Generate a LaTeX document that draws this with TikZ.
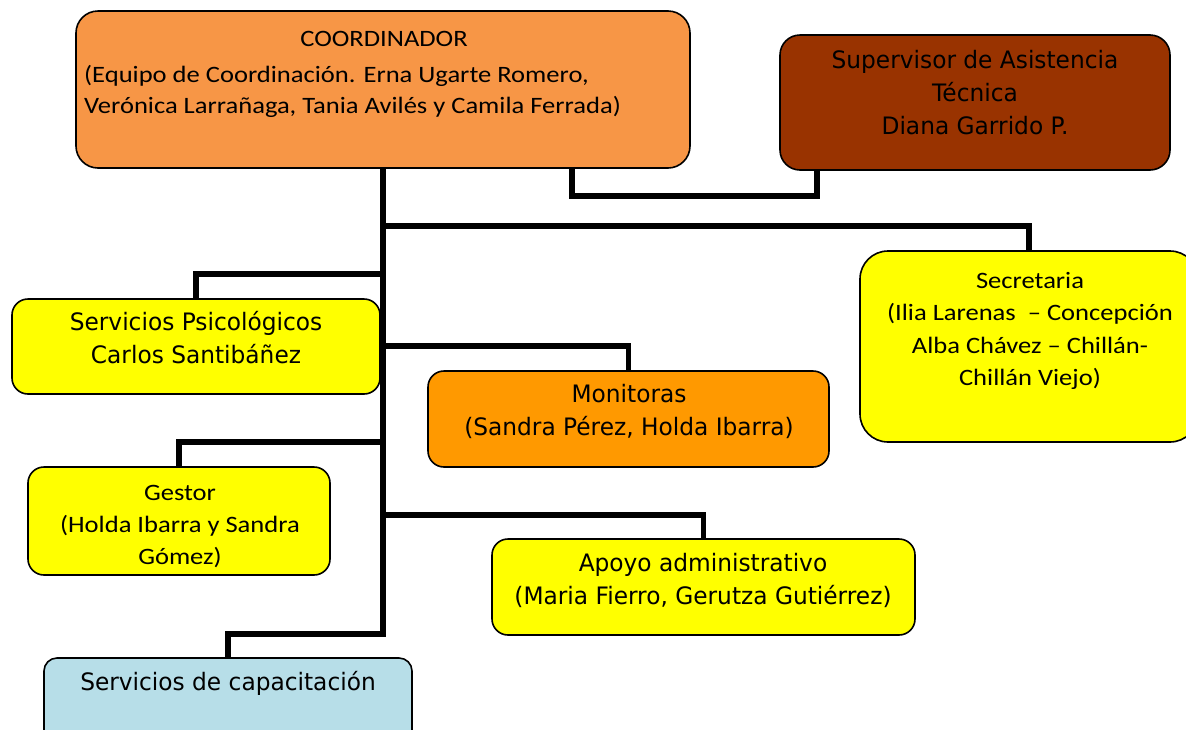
\documentclass[tikz,border=0pt]{standalone}
\usepackage{fontspec}
\setmainfont[FakeStretch=1.13]{Carlito}
\newfontfamily\tahoma[FakeStretch=0.97]{DejaVu Sans}
\definecolor{coordorange}{HTML}{F79646}
\definecolor{superbrown}{HTML}{993300}
\definecolor{boxyellow}{HTML}{FFFF00}
\definecolor{monorange}{HTML}{FF9900}
\definecolor{capablue}{HTML}{B7DEE8}
\begin{document}
\begin{tikzpicture}[x=1pt, y=-1pt, line join=miter,
	box/.style={draw=black, line width=1.6pt, rounded corners=16pt, inner sep=0pt},
	link/.style={line width=5.5pt},
	calib/.style={font=\fontsize{23.5}{32.5}\selectfont, align=center, inner sep=0pt},
	tah/.style={font=\tahoma\fontsize{24}{33}\selectfont, align=center, inner sep=0pt}]
	\clip (0,0) rectangle (1186,729);
	%Cajas
	\node[box, rounded corners=22pt, fill=coordorange, minimum width=614pt, minimum height=157pt] (coord) at (383,89.5) {};
	\node[box, rounded corners=20pt, fill=superbrown, minimum width=390pt, minimum height=135pt] (super) at (975,102.5) {};
	\node[box, rounded corners=28pt, fill=boxyellow, minimum width=338pt, minimum height=191pt] (secre) at (1029,346.5) {};
	\node[box, fill=boxyellow, minimum width=368pt, minimum height=95pt] (psico) at (196,346.5) {};
	\node[box, fill=monorange, minimum width=401pt, minimum height=96pt] (moni) at (628.5,419) {};
	\node[box, fill=boxyellow, minimum width=302pt, minimum height=108pt] (gestor) at (179,521) {};
	\node[box, fill=boxyellow, minimum width=423pt, minimum height=96pt] (apoyo) at (703.5,587) {};
	\node[box, rounded corners=13pt, fill=capablue, minimum width=368pt, minimum height=92pt] (capa) at (228,704) {};
	%Textos
	\node[calib, anchor=base] (coordtitle) at (384,46) {COORDINADOR};
	\node[calib, font=\fontsize{23.5}{31}\selectfont, align=left, anchor=west] (coordteam) at (84,91.5)
	{(Equipo de Coordinación. Erna Ugarte Romero,\\Verónica Larrañaga, Tania Avilés y Camila Ferrada)};
	\node[tah] (supertxt) at (975,92.5) {Supervisor de Asistencia\\Técnica\\Diana Garrido P.};
	\node[calib] (secretxt) at (1030,331) {Secretaria\\(Ilia Larenas \ – Concepción\\Alba Chávez – Chillán-\\Chillán Viejo)};
	\node[tah] (psicotxt) at (196,337.5) {Servicios Psicológicos\\Carlos Santibáñez};
	\node[tah] (monitxt) at (629,411.5) {Monitoras\\(Sandra Pérez, Holda Ibarra)};
	\node[calib, font=\fontsize{23.5}{32}\selectfont] (gestortxt) at (180,526.5) {Gestor\\(Holda Ibarra y Sandra\\Gómez)};
	\node[tah] (apoyotxt) at (703,580) {Apoyo administrativo\\(Maria Fierro, Gerutza Gutiérrez)};
	\node[tah, anchor=base] (capatxt) at (228,690) {Servicios de capacitación};
	%Conectores
	\draw[link] (coord.south) |- ([yshift=23pt]capa.north) -- (capa.north);
	\foreach \b/\d in {psico/24,gestor/24,secre/24,moni/24,apoyo/23}
	\draw[link] (\b.north) -- ++(0,-\d) -| (coord.south);
	\draw[link] ([xshift=189pt]coord.south) -- ++(0,27) -| ([xshift=-158pt]super.south);
\end{tikzpicture}
\end{document}
